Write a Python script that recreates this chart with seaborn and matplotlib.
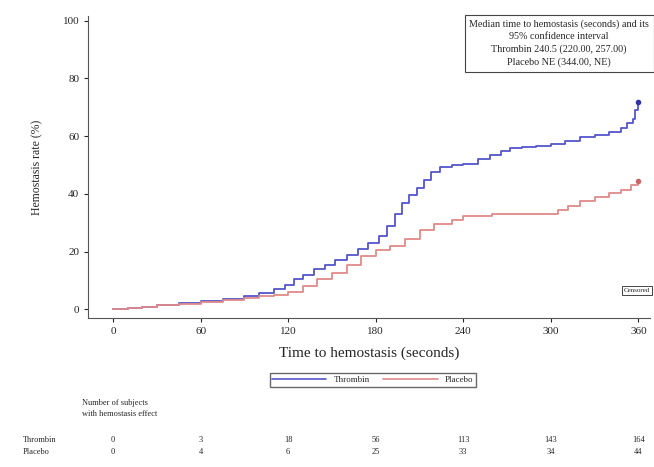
import matplotlib
matplotlib.use("Agg")
import matplotlib.pyplot as plt
import matplotlib.transforms as mtransforms
import seaborn as sns
import pandas as pd

# cumulative hemostasis rate (%)
thrombin_t = [0, 10, 20, 30, 45, 60, 75, 90, 100, 110, 118, 124, 130, 138, 145, 152, 160, 168, 175,
              182, 188, 193, 198, 203, 208, 213, 218, 224, 232, 240, 250, 258, 266, 272, 280, 290,
              300, 310, 320, 330, 340, 348, 352, 356, 358, 360]
thrombin_r = [0, 0.4, 0.9, 1.7, 2.2, 2.8, 3.5, 4.8, 5.8, 7.0, 8.5, 10.5, 12.0, 14.0, 15.5, 17.0, 19.0,
              21.0, 23.0, 25.5, 29.0, 33.0, 37.0, 39.5, 42.0, 45.0, 47.5, 49.5, 50.0, 50.5, 52.0, 53.5,
              55.0, 56.0, 56.3, 56.6, 57.3, 58.5, 59.7, 60.5, 61.5, 63.0, 64.5, 66.0, 69.0, 72.0]
placebo_t = [0, 10, 20, 30, 45, 60, 75, 90, 100, 110, 120, 130, 140, 150, 160, 170, 180, 190, 200,
             210, 220, 232, 240, 260, 280, 298, 305, 312, 320, 330, 340, 348, 355, 360]
placebo_r = [0, 0.4, 0.9, 1.5, 2.0, 2.6, 3.2, 4.0, 4.5, 5.0, 6.0, 8.0, 10.5, 12.5, 15.5, 18.5, 20.5,
             22.0, 24.5, 27.5, 29.5, 31.0, 32.5, 33.0, 33.0, 33.0, 34.5, 36.0, 37.5, 39.0, 40.5, 41.5,
             43.0, 44.5]

# number of subjects with hemostasis effect
risk_times = [0, 60, 120, 180, 240, 300, 360]
risk_thrombin = ["0", "3", "18", "56", "113", "143", "164"]
risk_placebo = ["0", "4", "6", "25", "33", "34", "44"]

x_ticks = [0, 60, 120, 180, 240, 300, 360]
y_ticks = [0, 20, 40, 60, 80, 100]

df = pd.concat([
    pd.DataFrame({"time": thrombin_t, "rate": thrombin_r, "group": "Thrombin"}),
    pd.DataFrame({"time": placebo_t, "rate": placebo_r, "group": "Placebo"}),
])

sns.set_style("white")
plt.rcParams["font.family"] = ["Liberation Serif", "DejaVu Serif"]

colors = {"Thrombin": "#5555cc", "Placebo": "#e08a8a"}

fig = plt.figure(figsize=(6.54, 4.67), dpi=100)
ax = fig.add_axes([0.135, 0.32, 0.859, 0.645])
sns.lineplot(data=df, x="time", y="rate", hue="group", palette=colors, drawstyle="steps-post",
             linewidth=1.3, ax=ax, legend=False)
# censored marks at the end
ax.plot([thrombin_t[-1]], [thrombin_r[-1]], "o", color="#3333aa", ms=3)
ax.plot([placebo_t[-1]], [placebo_r[-1]], "o", color="#cc6666", ms=3)

ax.set_xlim(-17, 368)
ax.set_ylim(-2.8, 101.5)
ax.set_xticks(x_ticks)
ax.set_yticks(y_ticks)
ax.tick_params(axis="both", labelsize=8, length=3, direction="out", left=True, bottom=True)
for s in ["top", "right"]:
    ax.spines[s].set_visible(False)
for s in ["left", "bottom"]:
    ax.spines[s].set_color("#555555")
ax.set_xlabel("Time to hemostasis (seconds)", fontsize=11, labelpad=8)
ax.set_ylabel("Hemostasis rate (%)", fontsize=8.5, labelpad=14)

ax.text(0.998, 0.99,
        "Median time to hemostasis (seconds) and its\n95% confidence interval\n"
        "Thrombin 240.5 (220.00, 257.00)\nPlacebo NE (344.00, NE)",
        transform=ax.transAxes, ha="right", va="top", fontsize=7.3, linespacing=1.45,
        multialignment="center",
        bbox=dict(boxstyle="square,pad=0.45", fc="white", ec="#444444", lw=0.8))
ax.text(1.0, 0.09, "Censored", transform=ax.transAxes, ha="right", va="center", fontsize=5,
        bbox=dict(boxstyle="square,pad=0.3", fc="white", ec="#444444", lw=0.7), clip_on=False)

handles = [plt.Line2D([], [], color=colors[g], lw=1.2) for g in ["Thrombin", "Placebo"]]
fig.legend(handles, ["Thrombin", "Placebo"], loc="center", bbox_to_anchor=(0.57, 0.187), ncol=2,
           fontsize=6.5, frameon=True, fancybox=False, edgecolor="#444444", handlelength=6,
           columnspacing=1.5, borderpad=0.3)

tr = mtransforms.blended_transform_factory(ax.transData, fig.transFigure)
fig.text(0.125, 0.125, "Number of subjects\nwith hemostasis effect", fontsize=6, va="center",
         linespacing=1.6)
fig.text(0.035, 0.058, "Thrombin", fontsize=6, va="center")
fig.text(0.035, 0.032, "Placebo", fontsize=6, va="center")
for t, a, b in zip(risk_times, risk_thrombin, risk_placebo):
    ax.text(t, 0.058, a, transform=tr, fontsize=6, ha="center", va="center")
    ax.text(t, 0.032, b, transform=tr, fontsize=6, ha="center", va="center")

fig.savefig("out.png", dpi=100)
